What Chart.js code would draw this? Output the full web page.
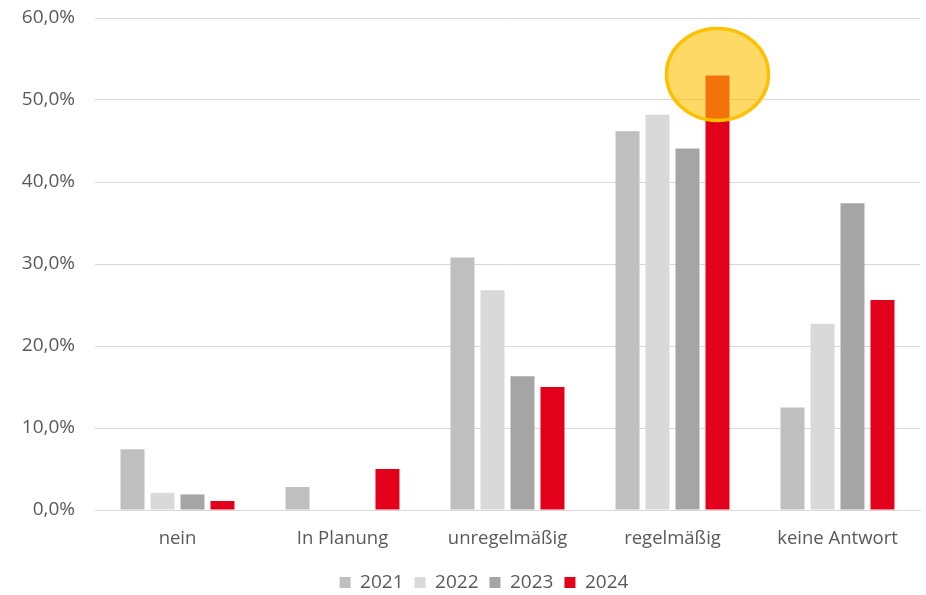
<!DOCTYPE html>
<html>
<head>
<meta charset="utf-8">
<script src="https://cdn.jsdelivr.net/npm/chart.js@4"></script>
<style>
  html, body { margin: 0; padding: 0; background: #fff; }
  #wrap { width: 926px; height: 595px; }
</style>
</head>
<body>
<div id="wrap"><canvas id="chart" width="926" height="595"></canvas></div>
<script>
const categories = ['nein', 'In Planung', 'unregelmäßig', 'regelmäßig', 'keine Antwort'];
const years = ['2021', '2022', '2023', '2024'];
const values2021 = [7.4, 2.8, 30.8, 46.2, 12.5];
const values2022 = [2.1, 0, 26.8, 48.2, 22.7];
const values2023 = [1.9, 0, 16.3, 44.1, 37.4];
const values2024 = [1.1, 5.0, 15.0, 53.0, 25.6];
const yTicks = [0, 10, 20, 30, 40, 50, 60];

const colors = ['#bfbfbf', '#d9d9d9', '#a5a5a5', '#e2001a'];
const highlight = { dataset: 3, index: 3 }; // 2024, regelmäßig

// yellow circle drawn around the top of the highlighted bar
const highlightPlugin = {
    id: 'highlight',
    afterDatasetsDraw(chart) {
        const bar = chart.getDatasetMeta(highlight.dataset).data[highlight.index];
        if (!bar) return;
        const ctx = chart.ctx;
        ctx.save();
        ctx.beginPath();
        ctx.ellipse(bar.x, bar.y - 1, 51, 46, 0, 0, Math.PI * 2);
        ctx.fillStyle = 'rgba(255, 192, 0, 0.6)';
        ctx.fill();
        ctx.lineWidth = 3.5;
        ctx.strokeStyle = '#ffc000';
        ctx.stroke();
        ctx.restore();
    }
};

// keep the legend box tight so it sits near the bottom edge,
// and nudge it right so it is centred under the plot area
const legendFitPlugin = {
    id: 'legendFit',
    beforeLayout(chart) {
        const legend = chart.legend;
        if (!legend || legend._fitPatched) return;
        const fit = legend.fit;
        legend.fit = function () {
            fit.call(this);
            this.height = 33;
        };
        const draw = legend.draw;
        legend.draw = function () {
            const ctx = this.ctx;
            ctx.save();
            ctx.translate(24, 0);
            draw.call(this);
            ctx.restore();
        };
        legend._fitPatched = true;
    }
};

const fontFamily = "'Open Sans', 'Liberation Sans', sans-serif";

new Chart(document.getElementById('chart'), {
    type: 'bar',
    data: {
        labels: categories,
        datasets: [values2021, values2022, values2023, values2024].map((vals, i) => ({
            label: years[i],
            data: vals,
            backgroundColor: colors[i],
            borderWidth: 0,
            barPercentage: 0.8,
            categoryPercentage: 0.727
        }))
    },
    options: {
        responsive: false,
        animation: false,
        devicePixelRatio: 1,
        layout: { padding: { top: 18, right: 6, left: 0, bottom: 0 } },
        plugins: {
            legend: {
                position: 'bottom',
                labels: {
                    color: '#595959',
                    font: { family: fontFamily, size: 19 },
                    boxWidth: 11,
                    boxHeight: 11,
                    padding: 11
                }
            },
            tooltip: { enabled: false }
        },
        scales: {
            x: {
                grid: { display: false },
                border: { display: true, color: '#d9d9d9', width: 1 },
                afterFit(scale) {
                    scale.height = 52;
                },
                ticks: {
                    color: '#595959',
                    font: { family: fontFamily, size: 18.5 },
                    padding: 10
                }
            },
            y: {
                min: 0,
                max: 60,
                afterBuildTicks(scale) {
                    scale.ticks = yTicks.map(v => ({ value: v }));
                },
                afterFit(scale) {
                    scale.width = 95;
                    scale.paddingTop = 0;
                    scale.paddingBottom = 0;
                },
                grid: { color: '#d9d9d9', lineWidth: 1, drawTicks: false },
                border: { display: false },
                ticks: {
                    color: '#595959',
                    font: { family: fontFamily, size: 19 },
                    padding: 20,
                    callback: v => v.toFixed(1).replace('.', ',') + '%'
                }
            }
        }
    },
    plugins: [highlightPlugin, legendFitPlugin]
});
</script>
</body>
</html>
